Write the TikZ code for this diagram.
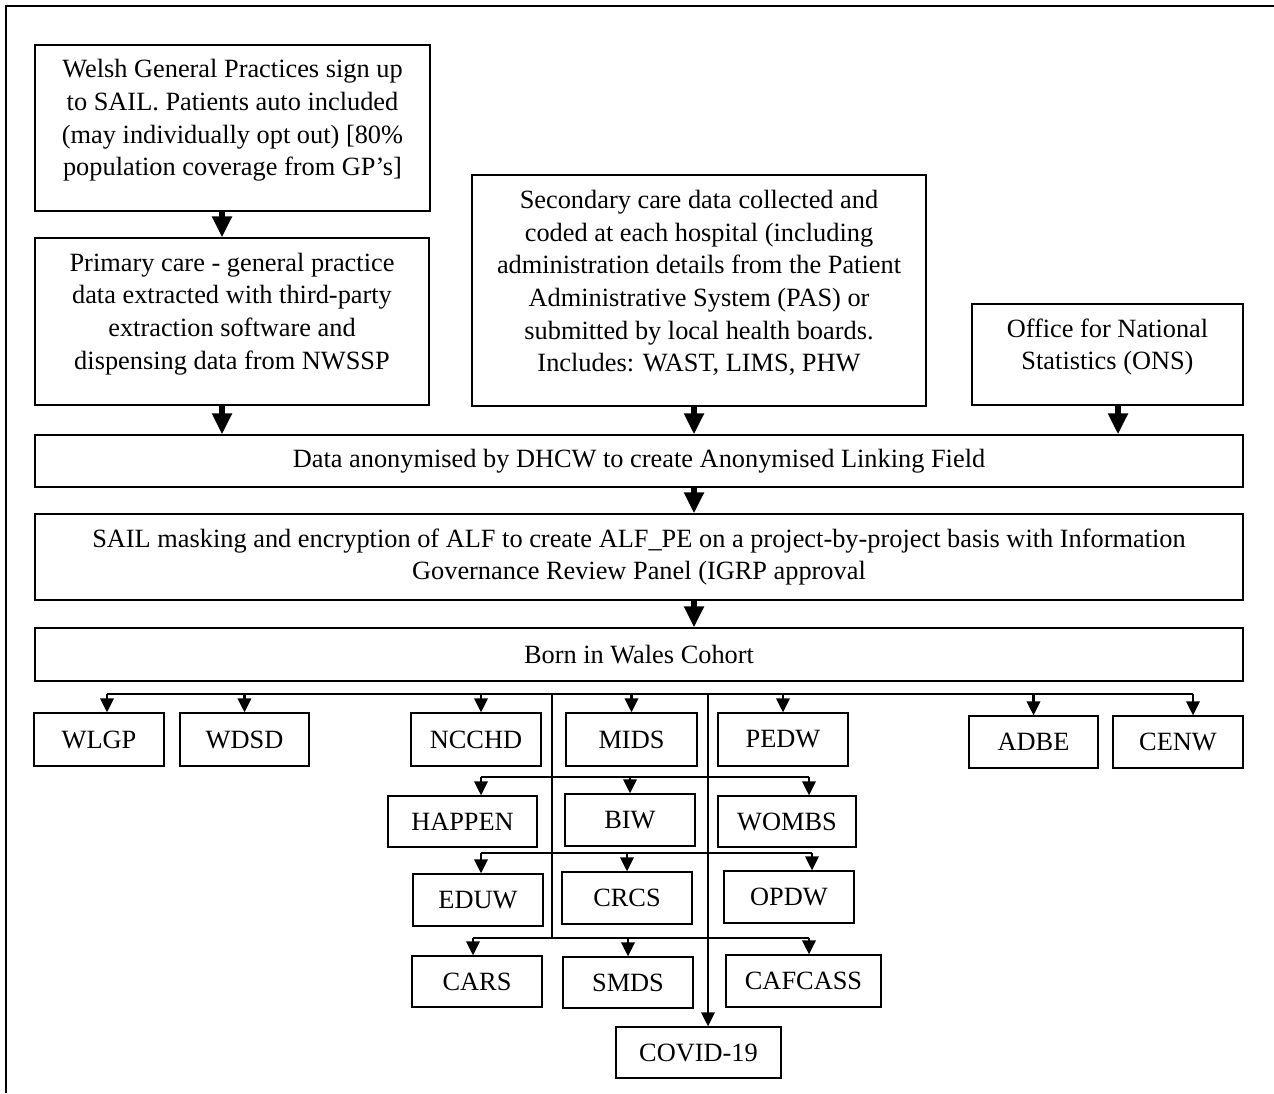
\documentclass[tikz,border=0pt]{standalone}
\usepackage{fontspec}
\setmainfont{Liberation Serif}
\usetikzlibrary{arrows.meta}
\newcommand{\flowfont}{\fontsize{15}{18.6}\selectfont}
\tikzset{
    box/.style={draw, line width=0.8pt, inner sep=0pt, align=center, font=\flowfont},
    lifted/.style={align=center, font=\flowfont, yshift=0.15cm},
    bigarr/.style={line width=3pt, -{Triangle[width=0.38cm,length=0.42cm]}},
    arr/.style={line width=1.2pt, -{Triangle[width=0.27cm,length=0.28cm]}},
    wire/.style={line width=1.2pt}
}
\begin{document}
\begin{tikzpicture}[x=0.02cm, y=-0.02cm]
                \useasboundingbox (0,0) rectangle (1274,1093);
                \draw[line width=1.6pt] (6,1093) -- (6,6) -- (1274,6);
                \node[box, minimum width=7.9cm, minimum height=3.32cm, label={[lifted]center:{Welsh General Practices sign up\\to SAIL. Patients auto included\\(may individually opt out) [80\%\\population coverage from GP's]}}] (gp) at (232.5,128) {};
                \node[box, minimum width=7.88cm, minimum height=3.34cm, label={[lifted]center:{Primary care - general practice\\data extracted with third-party\\extraction software and\\dispensing data from NWSSP}}] (prim) at (232,321.5) {};
                \node[box, minimum width=9.08cm, minimum height=4.62cm, label={[lifted]center:{Secondary care data collected and\\coded at each hospital (including\\administration details from the Patient\\Administrative System (PAS) or\\submitted by local health boards.\\Includes: WAST, LIMS, PHW}}] (sec) at (699,290.5) {};
                \node[box, minimum width=5.42cm, minimum height=2.02cm, label={[lifted]center:{Office for National\\Statistics (ONS)}}] (ons) at (1107.5,354.5) {};
                \node[box, minimum width=24.16cm, minimum height=1.04cm] (anon) at (639,461) {Data anonymised by DHCW to create Anonymised Linking Field};
                \node[box, minimum width=24.16cm, minimum height=1.72cm] (mask) at (639,557) {SAIL masking and encryption of ALF to create ALF\_PE on a project-by-project basis with Information\\Governance Review Panel (IGRP approval};
                \node[box, minimum width=24.16cm, minimum height=1.06cm] (cohort) at (639,654.5) {Born in Wales Cohort};
                \node[box, minimum width=2.6cm, minimum height=1.06cm] (wlgp) at (99,739.5) {WLGP};
                \node[box, minimum width=2.58cm, minimum height=1.06cm] (wdsd) at (244.5,739.5) {WDSD};
                \node[box, minimum width=2.6cm, minimum height=1.06cm] (ncchd) at (476,739.5) {NCCHD};
                \node[box, minimum width=2.62cm, minimum height=1.06cm] (mids) at (631.5,739.5) {MIDS};
                \node[box, minimum width=2.6cm, minimum height=1.06cm] (pedw) at (783,739.5) {PEDW};
                \node[box, minimum width=2.58cm, minimum height=1.04cm] (adbe) at (1033.5,742) {ADBE};
                \node[box, minimum width=2.6cm, minimum height=1.04cm] (cenw) at (1178,742) {CENW};
                \node[box, minimum width=2.98cm, minimum height=1.02cm] (happen) at (462.5,821.5) {HAPPEN};
                \node[box, minimum width=2.6cm, minimum height=1.04cm] (biw) at (630,820) {BIW};
                \node[box, minimum width=2.76cm, minimum height=1.02cm] (wombs) at (787,821.5) {WOMBS};
                \node[box, minimum width=2.6cm, minimum height=1.04cm] (eduw) at (478,900) {EDUW};
                \node[box, minimum width=2.6cm, minimum height=1.04cm] (crcs) at (627,898) {CRCS};
                \node[box, minimum width=2.6cm, minimum height=1.04cm] (opdw) at (789,897) {OPDW};
                \node[box, minimum width=2.6cm, minimum height=1.02cm] (cars) at (477,981.5) {CARS};
                \node[box, minimum width=2.6cm, minimum height=1.02cm] (smds) at (628,982.5) {SMDS};
                \node[box, minimum width=3.1cm, minimum height=1.04cm] (cafcass) at (803.5,981) {CAFCASS};
                \node[box, minimum width=3.3cm, minimum height=1.02cm] (covid) at (698.5,1052.5) {COVID-19};
                \coordinate (colL) at (222,0);
                \coordinate (colM) at (694,0);
                \coordinate (colR) at (1118,0);
                \coordinate (busL) at (107,694);
                \coordinate (busR) at (1193,694);
                \coordinate (trunkL) at (552,694);
                \coordinate (trunkR) at (708,694);
                \coordinate (rowBL) at (481,777);
                \coordinate (rowBR) at (809,777);
                \coordinate (rowCL) at (481,853);
                \coordinate (rowCR) at (812,853);
                \coordinate (rowDL) at (473,938);
                \coordinate (rowDR) at (809,938);
                \draw[bigarr] (gp.south -| colL) -- (prim.north -| colL);
                \draw[bigarr] (prim.south -| colL) -- (anon.north -| colL);
                \draw[bigarr] (sec.south -| colM) -- (anon.north -| colM);
                \draw[bigarr] (ons.south -| colR) -- (anon.north -| colR);
                \draw[bigarr] (anon.south -| colM) -- (mask.north -| colM);
                \draw[bigarr] (mask.south -| colM) -- (cohort.north -| colM);
                \draw[line width=0.9pt] (busL) -- (busR);
                \draw[arr] (busL) -- (wlgp.north -| busL);
                \draw[arr] (wdsd.north |- busL) -- (wdsd.north);
                \draw[arr] (rowBL |- busL) -- (ncchd.north -| rowBL);
                \draw[arr] (mids.north |- busL) -- (mids.north);
                \draw[arr] (pedw.north |- busL) -- (pedw.north);
                \draw[arr] (adbe.north |- busL) -- (adbe.north);
                \draw[arr] (busR) -- (cenw.north -| busR);
                \draw[wire] (trunkL) -- (trunkL |- rowDL);
                \draw[arr] (trunkR) -- (covid.north -| trunkR);
                \draw[wire] (rowBL) -- (rowBR);
                \draw[arr] (rowBL) -- (happen.north -| rowBL);
                \draw[arr] (biw.north |- rowBL) -- (biw.north);
                \draw[arr] (rowBR) -- (wombs.north -| rowBR);
                \draw[wire] (rowCL) -- (rowCR);
                \draw[arr] (rowCL) -- (eduw.north -| rowCL);
                \draw[arr] (crcs.north |- rowCL) -- (crcs.north);
                \draw[arr] (rowCR) -- (opdw.north -| rowCR);
                \draw[wire] (rowDL) -- (rowDR);
                \draw[arr] (rowDL) -- (cars.north -| rowDL);
                \draw[arr] (smds.north |- rowDL) -- (smds.north);
                \draw[arr] (rowDR) -- (cafcass.north -| rowDR);
\end{tikzpicture}
\end{document}
